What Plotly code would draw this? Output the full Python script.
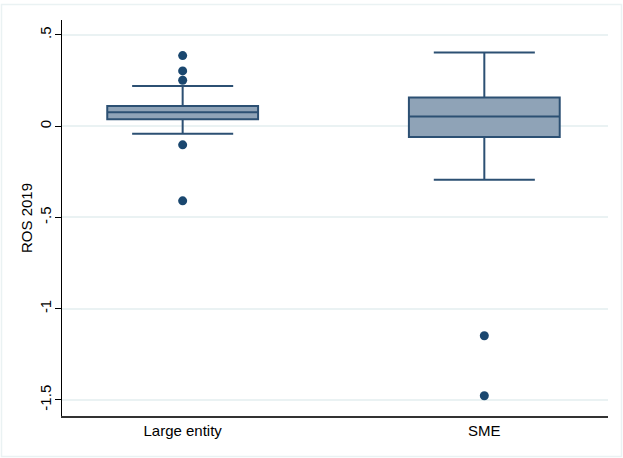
import plotly.graph_objects as go

# Box summary statistics of ROS 2019 by firm size
groups = ["Large entity", "SME"]
q1 = [0.038, -0.059]
median = [0.077, 0.053]
q3 = [0.111, 0.157]
lower_whisker = [-0.042, -0.294]
upper_whisker = [0.221, 0.404]

# Observations outside the whiskers
outlier_groups = ["Large entity"] * 5 + ["SME"] * 2
outlier_values = [0.387, 0.303, 0.252, -0.102, -0.409, -1.148, -1.477]

y_tick_values = [-1.5, -1, -0.5, 0, 0.5]
y_tick_labels = ["-1.5", "-1", "-.5", "0", ".5"]

navy = "#1a476f"
box_line = "#2c5073"
box_fill = "#8fa3b7"
grid_col = "#eaf2f3"

fig = go.Figure()
fig.add_trace(go.Box(
    x=groups,
    q1=q1,
    median=median,
    q3=q3,
    lowerfence=lower_whisker,
    upperfence=upper_whisker,
    boxpoints=False,
    fillcolor=box_fill,
    line=dict(color=box_line, width=2),
    width=0.5,
    whiskerwidth=0.67,
    showlegend=False,
    hoverinfo="skip",
))
fig.add_trace(go.Scatter(
    x=outlier_groups,
    y=outlier_values,
    mode="markers",
    marker=dict(color=navy, size=9),
    showlegend=False,
))

W, H = 623, 458
ml, mr, mt, mb = 62, 15, 20, 42
pw, ph = W - ml - mr, H - mt - mb

fig.update_layout(
    width=W,
    height=H,
    margin=dict(l=ml, r=mr, t=mt, b=mb),
    paper_bgcolor="white",
    plot_bgcolor="white",
    font=dict(family="Liberation Sans, Arial, Helvetica, sans-serif", size=15, color="black"),
    xaxis=dict(
        type="category",
        range=[-0.4, 1.41],
        showgrid=False,
        zeroline=False,
        showline=True,
        linecolor="#333333",
        linewidth=1.5,
        ticks="",
        tickfont=dict(size=15),
    ),
    yaxis=dict(
        range=[-1.588, 0.582],
        tickvals=y_tick_values,
        ticktext=y_tick_labels,
        tickangle=-90,
        ticks="outside",
        ticklen=6,
        tickcolor="black",
        ticklabelstandoff=-2,
        showgrid=True,
        gridcolor=grid_col,
        gridwidth=1.5,
        zeroline=False,
        showline=True,
        linecolor="black",
        linewidth=1,
        title=dict(text="ROS 2019", font=dict(size=15), standoff=0),
        tickfont=dict(size=15),
    ),
    shapes=[
        # light frame around the whole graph region
        dict(
            type="rect",
            xref="paper", yref="paper",
            x0=(1.5 - ml) / pw, x1=(W - 1.5 - ml) / pw,
            y0=-(mb - 1.5) / ph, y1=1 + (mt - 4.5) / ph,
            line=dict(color=grid_col, width=1.5),
            fillcolor="rgba(0,0,0,0)",
            layer="below",
        )
    ],
)

fig.write_html("out.html")
